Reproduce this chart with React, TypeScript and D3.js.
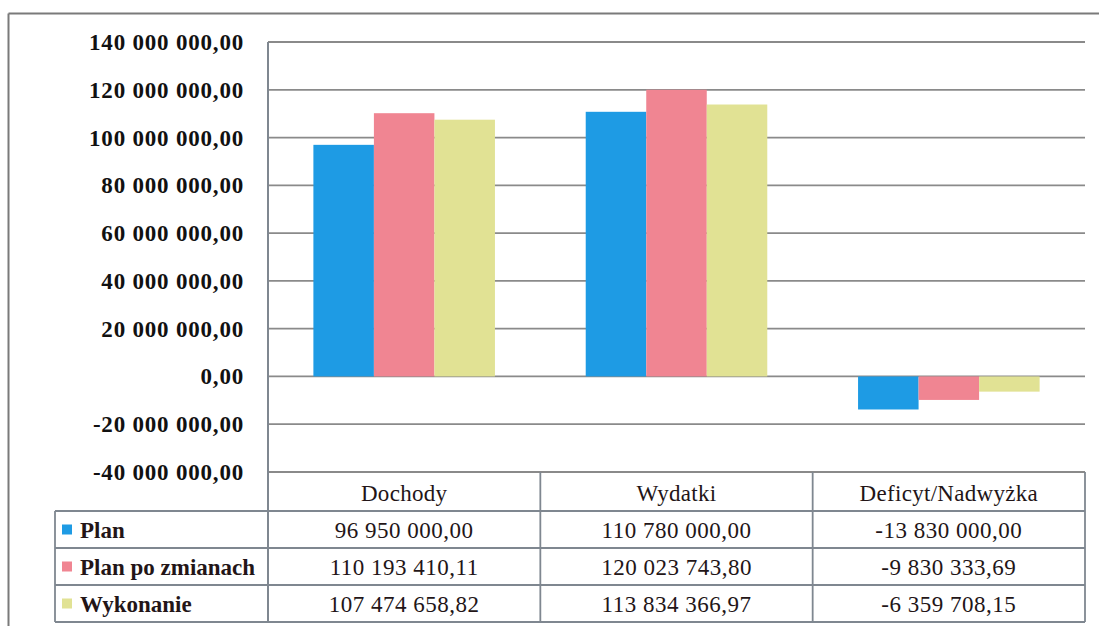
import React from 'react';
import * as d3 from 'd3';

const categories = ['Dochody', 'Wydatki', 'Deficyt/Nadwyżka'];
const seriesNames = ['Plan', 'Plan po zmianach', 'Wykonanie'];
const planValues = [96950000.0, 110780000.0, -13830000.0];
const planPoZmianachValues = [110193410.11, 120023743.8, -9830333.69];
const wykonanieValues = [107474658.82, 113834366.97, -6359708.15];
const tickValues = [-40000000, -20000000, 0, 20000000, 40000000, 60000000, 80000000, 100000000, 120000000, 140000000];
const seriesColors = ['#1e9be4', '#f08592', '#e1e294'];

const allSeries = [planValues, planPoZmianachValues, wykonanieValues];

const locale = d3.formatLocale({ decimal: ',', thousands: ' ', grouping: [3], currency: ['', ''], minus: '-' });
const fmt = locale.format(',.2f');

const W = 1099;
const H = 626;
const plotL = 268;
const plotR = 1085;
const plotT = 42;
const plotB = 472;
const legL = 55;
const headerB = 511;
const rowH = 37;
const gridColor = '#8a8a8a';
const tableColor = '#7f8790';
const textColor = '#231517';

function pickSerif(): string {
  const candidates = ['Liberation Serif', 'Times New Roman', 'DejaVu Serif', 'Noto Serif', 'Tinos', 'FreeSerif', 'Nimbus Roman', 'Noto Serif CJK SC'];
  try {
    const c = document.createElement('canvas');
    const ctx = c.getContext('2d');
    if (!ctx) return candidates[0];
    const sample = 'Plan po zmianach 140 000 000,00 Wykonanie';
    for (const base of ['monospace', 'sans-serif']) {
      ctx.font = `40px ${base}`;
      const bw = ctx.measureText(sample).width;
      for (const f of candidates) {
        ctx.font = `40px "${f}", ${base}`;
        if (Math.abs(ctx.measureText(sample).width - bw) > 0.5) {
          return f;
        }
      }
    }
  } catch (e) {
    /* ignore */
  }
  return 'serif';
}

export default function App() {
  const serif = React.useMemo(() => pickSerif(), []);
  const FONT = `"${serif}", serif`;
  const txt: React.CSSProperties = { fontFamily: FONT };

  const y = d3.scaleLinear().domain([-40000000, 140000000]).range([plotB, plotT]);
  const x0 = d3.scaleBand<string>().domain(categories).range([plotL, plotR]).paddingInner(0).paddingOuter(0);
  const x1 = d3.scaleBand<string>().domain(seriesNames).range([0, x0.bandwidth()]).paddingInner(0).paddingOuter(0.75);

  const rowTops = seriesNames.map((_, i) => headerB + i * rowH);
  const tableBottom = headerB + seriesNames.length * rowH;

  return (
    <svg width={W} height={H} style={{ position: 'absolute', left: 0, top: 0, background: '#fff', fontFamily: FONT }}>
      <rect x={0} y={0} width={W} height={H} fill="#fff" />
      {/* outer frame */}
      <line x1={8.5} y1={13.5} x2={W} y2={13.5} stroke="#7a7a7a" strokeWidth={2} />
      <line x1={8.5} y1={13.5} x2={8.5} y2={H} stroke="#7a7a7a" strokeWidth={2} />

      {/* gridlines */}
      {tickValues.map((t) => (
        <line key={'g' + t} x1={plotL} x2={plotR} y1={y(t)} y2={y(t)} stroke={gridColor} strokeWidth={1.8} />
      ))}
      {/* tick labels */}
      {tickValues.map((t) => (
        <text
          key={'t' + t}
          x={244}
          y={y(t)}
          dy="0.35em"
          textAnchor="end"
          fontSize={23}
          fontWeight="bold"
          fill="#111"
          letterSpacing={0.8}
          style={txt}
        >
          {fmt(t)}
        </text>
      ))}

      {/* bars */}
      {categories.map((c, ci) => (
        <g key={c} transform={`translate(${x0(c)},0)`}>
          {seriesNames.map((s, si) => {
            const v = allSeries[si][ci];
            const y0 = y(0);
            const yv = y(v);
            return (
              <rect
                key={s}
                x={x1(s)}
                y={Math.min(y0, yv)}
                width={x1.bandwidth()}
                height={Math.abs(yv - y0)}
                fill={seriesColors[si]}
              />
            );
          })}
        </g>
      ))}

      {/* axis line */}
      <line x1={plotL} x2={plotL} y1={plotT} y2={tableBottom} stroke={tableColor} strokeWidth={2} />

      {/* table lines */}
      <line x1={legL} x2={plotR} y1={headerB} y2={headerB} stroke={tableColor} strokeWidth={1.8} />
      {rowTops.map((rt, i) => (
        <line key={'r' + i} x1={legL} x2={plotR} y1={rt + rowH} y2={rt + rowH} stroke={tableColor} strokeWidth={1.8} />
      ))}
      <line x1={legL} x2={legL} y1={headerB} y2={tableBottom} stroke={tableColor} strokeWidth={1.8} />
      {categories.map((c) => (
        <line
          key={'v' + c}
          x1={(x0(c) as number) + x0.bandwidth()}
          x2={(x0(c) as number) + x0.bandwidth()}
          y1={plotB}
          y2={tableBottom}
          stroke={tableColor}
          strokeWidth={1.8}
        />
      ))}

      {/* header */}
      {categories.map((c) => (
        <text
          key={'h' + c}
          x={(x0(c) as number) + x0.bandwidth() / 2}
          y={(plotB + headerB) / 2 + 1}
          dy="0.35em"
          textAnchor="middle"
          fontSize={23}
          fill={textColor}
          letterSpacing={0.3}
          style={txt}
        >
          {c}
        </text>
      ))}

      {/* legend + values */}
      {seriesNames.map((s, si) => (
        <g key={'row' + s}>
          <rect x={62} y={rowTops[si] + rowH / 2 - 5} width={10} height={10} fill={seriesColors[si]} />
          <text x={80} y={rowTops[si] + rowH / 2} dy="0.35em" fontSize={23} fontWeight="bold" fill={textColor} style={txt}>
            {s}
          </text>
          {categories.map((c, ci) => (
            <text
              key={c}
              x={(x0(c) as number) + x0.bandwidth() / 2}
              y={rowTops[si] + rowH / 2}
              dy="0.35em"
              textAnchor="middle"
              fontSize={23}
              fill={textColor}
              letterSpacing={0.5}
              style={txt}
            >
              {fmt(allSeries[si][ci])}
            </text>
          ))}
        </g>
      ))}
    </svg>
  );
}
